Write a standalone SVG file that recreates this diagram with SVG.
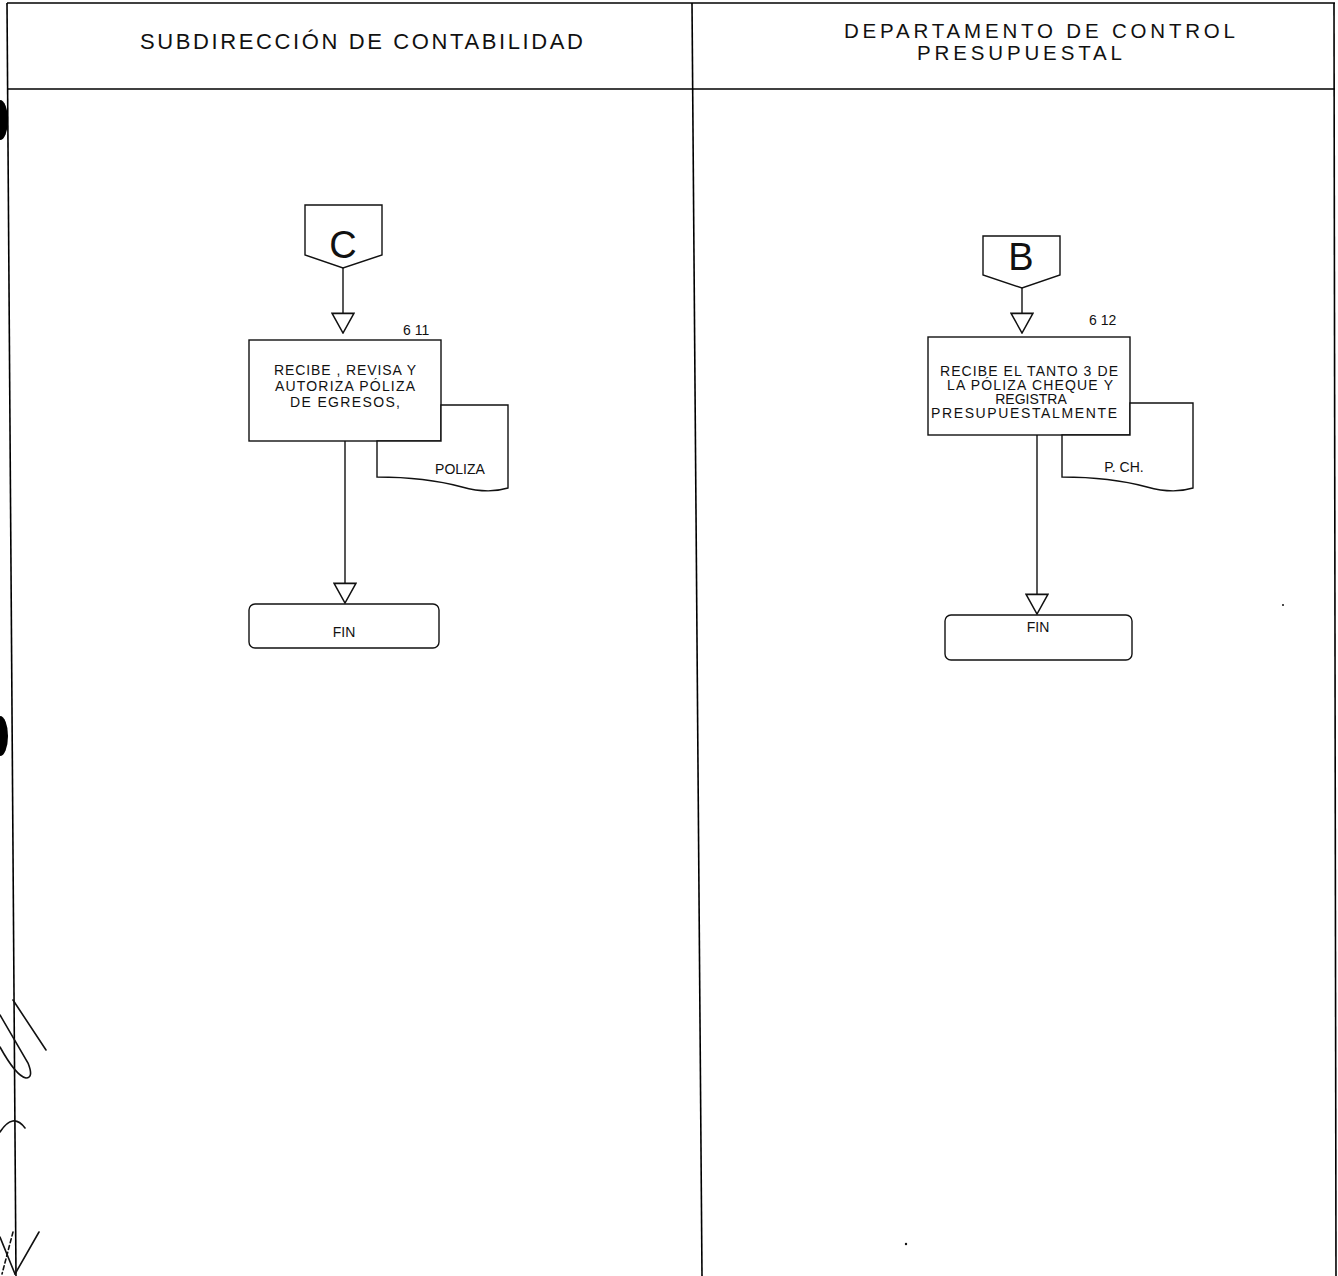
<svg xmlns="http://www.w3.org/2000/svg" width="1338" height="1276" viewBox="0 0 1338 1276">
<style>
  .frame { stroke: #000; stroke-width: 1.6; fill: none; }
  .shape { stroke: #111; stroke-width: 1.4; fill: #fff; }
  .line { stroke: #111; stroke-width: 1.4; fill: none; }
  .hdr { font-family: "Liberation Sans", Arial, sans-serif; font-size: 22px; fill: #111; }
  .hdr2 { font-family: "Liberation Sans", Arial, sans-serif; font-size: 20.5px; fill: #111; }
  .t { font-family: "Liberation Sans", Arial, sans-serif; font-size: 14px; fill: #111; text-anchor: middle; }
  .num { font-family: "Liberation Sans", Arial, sans-serif; font-size: 14px; fill: #111; }
  .conn { font-family: "Liberation Sans", Arial, sans-serif; font-size: 38px; fill: #111; text-anchor: middle; }
  .mark { stroke: #111; stroke-width: 1.6; fill: none; stroke-linecap: round; }
</style>
<defs>
  <marker id="arrow" markerUnits="userSpaceOnUse" markerWidth="22" markerHeight="24" viewBox="-1 -11 20 22" refX="18" refY="0" orient="auto">
    <path d="M0,-10 L18,0 L0,10 Z" fill="#fff" stroke="#111" stroke-width="1.4"/>
  </marker>
</defs>
<rect width="1338" height="1276" fill="#fff"/>

<g id="frame">
  <line class="frame" x1="7" y1="3" x2="1335" y2="3"/>
  <line class="frame" x1="7" y1="89" x2="1335" y2="89"/>
  <line class="frame" x1="7" y1="3" x2="16" y2="1276"/>
  <line class="frame" x1="692" y1="3" x2="702" y2="1276"/>
  <line class="frame" x1="1334" y1="3" x2="1336" y2="1276"/>
</g>

<g id="lane-headers">
  <text class="hdr" x="140" y="49" textLength="443" lengthAdjust="spacing">SUBDIRECCIÓN DE CONTABILIDAD</text>
  <text class="hdr2" x="844" y="38" textLength="391" lengthAdjust="spacing">DEPARTAMENTO DE CONTROL</text>
  <text class="hdr2" x="917" y="60" textLength="205" lengthAdjust="spacing">PRESUPUESTAL</text>
</g>

<g id="connectors">
  <line class="line" x1="343" y1="268" x2="343" y2="333" marker-end="url(#arrow)"/>
  <line class="line" x1="345" y1="441" x2="345" y2="603" marker-end="url(#arrow)"/>
  <line class="line" x1="1022" y1="288" x2="1022" y2="333" marker-end="url(#arrow)"/>
  <line class="line" x1="1037" y1="435" x2="1037" y2="614" marker-end="url(#arrow)"/>
</g>

<g id="node-C">
  <path class="shape" d="M305,205 H382 V255 L343,268 L305,255 Z"/>
  <text class="conn" x="343" y="258">C</text>
</g>

<g id="node-6-11">
  <rect class="shape" x="249" y="340" width="192" height="101"/>
  <text class="num" x="403" y="335">6  11</text>
  <text class="t" x="345" y="375" textLength="142" lengthAdjust="spacing">RECIBE , REVISA Y</text>
  <text class="t" x="345" y="391" textLength="140" lengthAdjust="spacing">AUTORIZA PÓLIZA</text>
  <text class="t" x="345" y="407" textLength="110" lengthAdjust="spacing">DE EGRESOS,</text>
</g>

<g id="doc-poliza">
  <path class="shape" d="M441,405 H508 V488 C495,492 480,492 462,487 C440,481 410,477 377,477 V441 H441 Z"/>
  <text class="t" x="460" y="474">POLIZA</text>
</g>

<g id="node-fin-left">
  <rect class="shape" x="249" y="604" width="190" height="44" rx="6"/>
  <text class="t" x="344" y="637">FIN</text>
</g>

<g id="node-B">
  <path class="shape" d="M983,236 H1060 V275 L1022,288 L983,275 Z"/>
  <text class="conn" x="1021" y="270">B</text>
</g>

<g id="node-6-12">
  <rect class="shape" x="928" y="337" width="202" height="98"/>
  <text class="num" x="1089" y="325">6  12</text>
  <text class="t" x="1029" y="376" textLength="178" lengthAdjust="spacing">RECIBE EL TANTO 3 DE</text>
  <text class="t" x="1030" y="390" textLength="166" lengthAdjust="spacing">LA PÓLIZA CHEQUE Y</text>
  <text class="t" x="1031" y="404">REGISTRA</text>
  <text class="t" x="1024" y="418" textLength="186" lengthAdjust="spacing">PRESUPUESTALMENTE</text>
</g>

<g id="doc-pch">
  <path class="shape" d="M1130,403 H1193 V488 C1180,492 1165,492 1147,487 C1125,481 1095,477 1062,477 V435 H1130 Z"/>
  <text class="t" x="1124" y="472">P. CH.</text>
</g>

<g id="node-fin-right">
  <rect class="shape" x="945" y="615" width="187" height="45" rx="6"/>
  <text class="t" x="1038" y="632">FIN</text>
</g>

<g id="scan-marks">
  <path d="M0,100 A8,20 0 0 1 0,140 Z" fill="#000"/>
  <path d="M0,716 A8,20 0 0 1 0,756 Z" fill="#000"/>
  <path class="mark" d="M13,1000 L46,1050"/>
  <path class="mark" d="M0,1015 L28,1063 Q34,1078 26,1078 Q16,1076 0,1047"/>
  <path class="mark" d="M0,1132 Q13,1112 25,1128"/>
  <path class="mark" d="M39,1232 L15,1274"/>
  <path class="mark" d="M0,1237 L15,1274"/>
  <path class="mark" d="M13,1232 L2,1274" stroke-dasharray="4 3"/>
  <circle cx="906" cy="1244" r="1.2" fill="#111"/>
  <circle cx="1283" cy="605" r="1" fill="#111"/>
</g>
</svg>
